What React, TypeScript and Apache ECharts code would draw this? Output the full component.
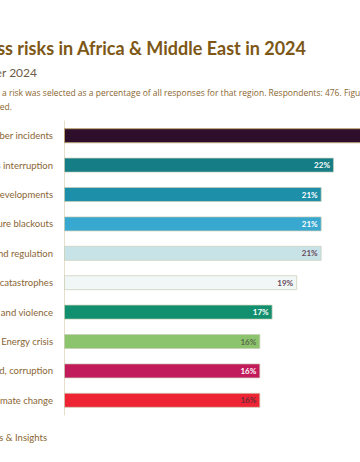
import React, { useEffect, useRef } from "react";
import * as echarts from "echarts";

const categories = [
  "Cyber incidents",
  "Business interruption",
  "Macroeconomic developments",
  "Critical infrastructure blackouts",
  "Changes in legislation and regulation",
  "Natural catastrophes",
  "Political risks and violence",
  "Energy crisis",
  "Theft, fraud, corruption",
  "Climate change",
];
const values = [33, 22, 21, 21, 21, 19, 17, 16, 16, 16];
const barColors = [
  "#2d0e2b",
  "#147d86",
  "#1d8fa9",
  "#38a8d0",
  "#c8e3e8",
  "#f1f7f7",
  "#128f6e",
  "#8cc46e",
  "#c21b5c",
  "#ee2434",
];
const labelColors = [
  "#ffffff",
  "#ffffff",
  "#ffffff",
  "#ffffff",
  "#6a4a5a",
  "#6a4a5a",
  "#ffffff",
  "#5a6a4a",
  "#ffffff",
  "#6a2a3a",
];

const TITLE = "Top 10 business risks in Africa & Middle East in 2024";
const SUBTITLE = "Allianz Risk Barometer 2024";
const NOTE_PREFIX = "Figures represent how often ";
const NOTE_1 =
  "Figures represent how often a risk was selected as a percentage of all responses for that region. Respondents: 476. Figures don't add up to 100% as up to three risks could be";
const NOTE_2 = "selected.";
const SOURCE = "Source: Allianz Commercial, Analytics & Insights";

const FONT = "Lato, 'Open Sans', sans-serif";
const NOTE_FONT = "8.5px 'Open Sans'";

function measure(text: string, font: string): number {
  const c = document.createElement("canvas");
  const ctx = c.getContext("2d");
  if (!ctx) return 0;
  ctx.font = font;
  return ctx.measureText(text).width;
}

export default function App() {
  const ref = useRef<HTMLDivElement>(null);
  useEffect(() => {
    if (!ref.current) return;
    const chart = echarts.init(ref.current, undefined, { renderer: "svg" });
    const prefixW = measure(NOTE_PREFIX, NOTE_FONT);
    const gridLeft = 64;
    const gridRight = -40;
    const pxPerPct = 12.27;
    const width = 360 - gridLeft - gridRight;
    const max = width / pxPerPct;
    chart.setOption({
      animation: false,
      backgroundColor: "#ffffff",
      grid: {
        left: gridLeft,
        right: gridRight,
        top: 121,
        bottom: 47,
        containLabel: false,
        outerBoundsMode: "none",
      },
      xAxis: {
        type: "value",
        min: 0,
        max,
        show: false,
      },
      yAxis: {
        type: "category",
        data: categories,
        inverse: true,
        axisLine: { show: true, lineStyle: { color: "#e6ddcc", width: 1 } },
        axisTick: { show: false },
        axisLabel: {
          color: "#8a6534",
          fontSize: 9.5,
          fontFamily: FONT,
          margin: 11,
          align: "right",
        },
      },
      series: [
        {
          type: "bar",
          barWidth: 15,
          data: values.map((v, i) => ({
            value: v,
            itemStyle: {
              color: barColors[i],
              borderColor: i === 0 ? "#b8a070" : "rgba(200,205,180,0.7)",
              borderWidth: 1,
            },
            label: {
              show: true,
              position: "insideRight",
              distance: 4,
              formatter: "{c}%",
              color: labelColors[i],
              fontSize: 8,
              fontWeight: "bold",
              fontFamily: FONT,
            },
          })),
        },
      ],
      graphic: [
        {
          type: "text",
          x: 306,
          y: 48,
          style: {
            text: TITLE,
            textAlign: "right",
            textVerticalAlign: "middle",
            fill: "#7d5716",
            font: "bold 18px Lato, sans-serif",
          },
        },
        {
          type: "text",
          x: 37,
          y: 72,
          style: {
            text: SUBTITLE,
            textAlign: "right",
            textVerticalAlign: "middle",
            fill: "#6e5b48",
            font: "12px Lato, sans-serif",
          },
        },
        {
          type: "text",
          x: 2 - prefixW,
          y: 92,
          style: {
            text: NOTE_1,
            textAlign: "left",
            textVerticalAlign: "middle",
            fill: "#8b6630",
            font: NOTE_FONT,
          },
        },
        {
          type: "text",
          x: 12,
          y: 106,
          style: {
            text: NOTE_2,
            textAlign: "right",
            textVerticalAlign: "middle",
            fill: "#8b6630",
            font: NOTE_FONT,
          },
        },
        {
          type: "text",
          x: 47,
          y: 437,
          style: {
            text: SOURCE,
            textAlign: "right",
            textVerticalAlign: "middle",
            fill: "#8b6630",
            font: "9.5px Lato",
          },
        },
      ],
    });
    return () => chart.dispose();
  }, []);
  return (
    <div
      ref={ref}
      style={{ position: "fixed", left: 0, top: 0, width: 360, height: 462 }}
    />
  );
}
